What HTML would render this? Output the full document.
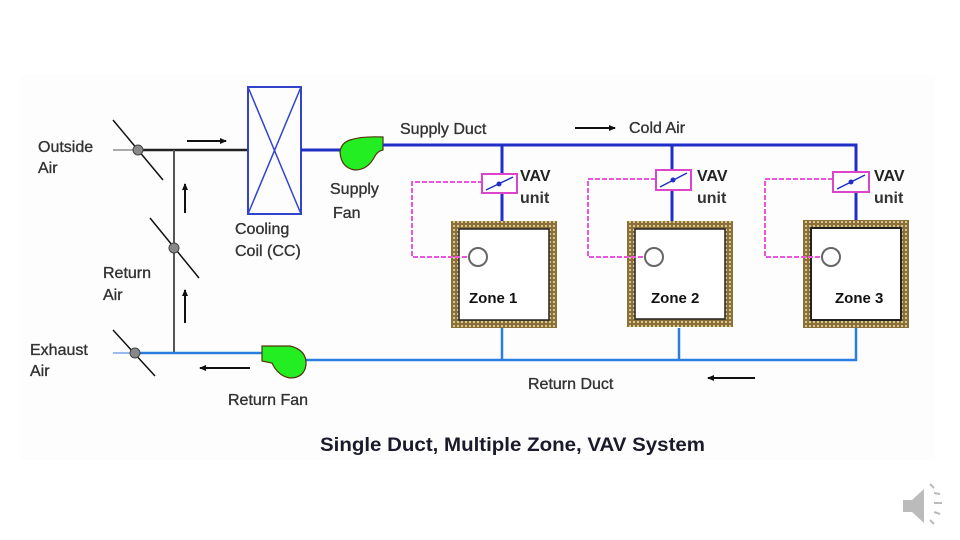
<!DOCTYPE html>
<html><head><meta charset="utf-8"><style>
html,body{margin:0;padding:0;background:#fff;}
svg{display:block;}
text{font-family:"Liberation Sans",Arial,sans-serif;fill:#333;font-size:16px;stroke:#333;stroke-width:0.35;}
</style></head><body>
<svg width="960" height="540" viewBox="0 0 960 540" xmlns="http://www.w3.org/2000/svg">
<defs>
<pattern id="wall" width="4" height="4" patternUnits="userSpaceOnUse">
<rect width="4" height="4" fill="#8a6f38"/><rect x="1" y="1" width="2" height="2" fill="#d8c890"/>
</pattern>
<marker id="ah" markerWidth="8" markerHeight="8" refX="6" refY="4" orient="auto" markerUnits="userSpaceOnUse">
<path d="M0,1 L7,4 L0,7 Z" fill="#111"/></marker>
</defs>
<rect x="20" y="75" width="915" height="385" fill="#fdfdfd"/>

<line x1="113" y1="150" x2="135" y2="150" stroke="#aaa" stroke-width="2"/>
<line x1="138" y1="150" x2="248" y2="150" stroke="#222" stroke-width="2.5"/>
<line x1="174" y1="150" x2="174" y2="353" stroke="#555" stroke-width="2"/>
<line x1="113" y1="120" x2="163" y2="180" stroke="#111" stroke-width="1.5"/>
<circle cx="138" cy="150" r="5" fill="#888" stroke="#444"/>
<line x1="150" y1="218" x2="199" y2="278" stroke="#111" stroke-width="1.5"/>
<circle cx="174" cy="248" r="5" fill="#888" stroke="#444"/>
<line x1="113" y1="330" x2="155" y2="376" stroke="#111" stroke-width="1.5"/>
<line x1="187" y1="141" x2="226" y2="141" stroke="#111" stroke-width="2" marker-end="url(#ah)"/>
<line x1="185" y1="213" x2="185" y2="184" stroke="#111" stroke-width="2" marker-end="url(#ah)"/>
<line x1="185" y1="323" x2="185" y2="290" stroke="#111" stroke-width="2" marker-end="url(#ah)"/>
<line x1="250" y1="368" x2="200" y2="368" stroke="#111" stroke-width="2" marker-end="url(#ah)"/>
<line x1="575" y1="128" x2="615" y2="128" stroke="#111" stroke-width="2" marker-end="url(#ah)"/>
<line x1="755" y1="378" x2="708" y2="378" stroke="#111" stroke-width="2" marker-end="url(#ah)"/>

<rect x="248" y="87" width="53" height="127" fill="none" stroke="#3344cc" stroke-width="2"/>
<line x1="248" y1="87" x2="301" y2="214" stroke="#3344cc" stroke-width="1.5"/>
<line x1="301" y1="87" x2="248" y2="214" stroke="#3344cc" stroke-width="1.5"/>
<line x1="301" y1="150" x2="352" y2="150" stroke="#1f2fc8" stroke-width="3"/>
<path d="M350,140 Q362,136 383,137 L383,150 Q378,151 375,156 Q368,170 355,170 Q341,168 340,152 Q341,143 350,140 Z" fill="#22ee22" stroke="#553311" stroke-width="1.2"/>
<polyline points="383,145 856,145 856,221" fill="none" stroke="#1f2fc8" stroke-width="3"/>
<line x1="502" y1="145" x2="502" y2="221" stroke="#1f2fc8" stroke-width="3"/>
<line x1="672" y1="145" x2="672" y2="221" stroke="#1f2fc8" stroke-width="3"/>

<line x1="113" y1="353" x2="135" y2="353" stroke="#99bbee" stroke-width="2"/>
<line x1="135" y1="353" x2="265" y2="353" stroke="#2a7ee0" stroke-width="2.5"/>
<circle cx="135" cy="353" r="5" fill="#888" stroke="#444"/>
<polyline points="300,360 856,360 856,328" fill="none" stroke="#2a7ee0" stroke-width="2.5"/>
<line x1="502" y1="328" x2="502" y2="360" stroke="#2a7ee0" stroke-width="2.5"/>
<line x1="679" y1="328" x2="679" y2="360" stroke="#2a7ee0" stroke-width="2.5"/>
<path d="M262,346 L290,346 Q307,350 306,365 Q304,378 290,378 Q278,376 272,363 L262,361 Z" fill="#22ee22" stroke="#553311" stroke-width="1.2"/>

<rect x="451" y="221" width="106" height="107" fill="url(#wall)"/>
<rect x="459" y="229" width="90" height="91" fill="#fff" stroke="#222" stroke-width="1.5"/>
<rect x="627" y="221" width="106" height="106" fill="url(#wall)"/>
<rect x="635" y="229" width="90" height="90" fill="#fff" stroke="#222" stroke-width="1.5"/>
<rect x="803" y="220" width="106" height="108" fill="url(#wall)"/>
<rect x="811" y="228" width="90" height="92" fill="#fff" stroke="#222" stroke-width="2"/>
<g fill="none" stroke="#ee55dd" stroke-width="2" stroke-dasharray="5,2">
<polyline points="483,182 412,182 412,257 469,257"/>
<polyline points="656,179 588,179 588,257 645,257"/>
<polyline points="833,179 765,179 765,257 822,257"/>
</g>
<g fill="#fff" stroke="#666" stroke-width="2">
<circle cx="478" cy="257" r="9"/><circle cx="654" cy="257" r="9"/><circle cx="831" cy="257" r="9"/>
</g>
<g fill="#fff" stroke="#dd44cc" stroke-width="2">
<rect x="482" y="174" width="35" height="19"/><rect x="656" y="170" width="35" height="20"/><rect x="833" y="172" width="36" height="20"/>
</g>
<g stroke="#1f2fc8" stroke-width="1.5">
<line x1="486" y1="190" x2="513" y2="177"/><line x1="660" y1="187" x2="687" y2="173"/><line x1="837" y1="189" x2="865" y2="175"/>
</g>
<g fill="#1f2fc8"><circle cx="499" cy="184" r="2.5"/><circle cx="673" cy="180" r="2.5"/><circle cx="851" cy="182" r="2.5"/></g>

<text x="38" y="152">Outside</text><text x="38" y="173">Air</text>
<text x="103" y="278">Return</text><text x="103" y="300">Air</text>
<text x="30" y="355">Exhaust</text><text x="30" y="376">Air</text>
<text x="235" y="234">Cooling</text><text x="235" y="256">Coil (CC)</text>
<text x="330" y="194">Supply</text><text x="333" y="218">Fan</text>
<text x="228" y="405">Return Fan</text>
<text x="400" y="134">Supply Duct</text>
<text x="629" y="133">Cold Air</text>
<text x="528" y="389">Return Duct</text>
<text x="520" y="181" style="font-weight:bold;fill:#222;stroke:none">VAV</text><text x="520" y="203" style="font-weight:bold;stroke:none">unit</text>
<text x="697" y="181" style="font-weight:bold;fill:#222;stroke:none">VAV</text><text x="697" y="203" style="font-weight:bold;stroke:none">unit</text>
<text x="874" y="181" style="font-weight:bold;fill:#222;stroke:none">VAV</text><text x="874" y="203" style="font-weight:bold;stroke:none">unit</text>
<text x="469" y="303" style="font-weight:bold;fill:#111;stroke:none;font-size:15px">Zone 1</text>
<text x="651" y="303" style="font-weight:bold;fill:#111;stroke:none;font-size:15px">Zone 2</text>
<text x="835" y="303" style="font-weight:bold;fill:#111;stroke:none;font-size:15px">Zone 3</text>
<text x="320" y="451" textLength="385" lengthAdjust="spacingAndGlyphs" style="font-weight:bold;fill:#1a1a2a;stroke:none;font-size:19px">Single Duct, Multiple Zone, VAV System</text>

<path d="M903,500 L912,500 L924,489 L924,523 L912,512 L903,512 Z" fill="#bbb"/>
<g stroke="#bbb" stroke-width="2" fill="none">
<line x1="930" y1="484" x2="934" y2="488"/><line x1="934" y1="493" x2="940" y2="494"/>
<line x1="934" y1="503" x2="942" y2="503"/><line x1="934" y1="512" x2="940" y2="514"/><line x1="930" y1="520" x2="934" y2="524"/>
</g>
</svg>
</body></html>
